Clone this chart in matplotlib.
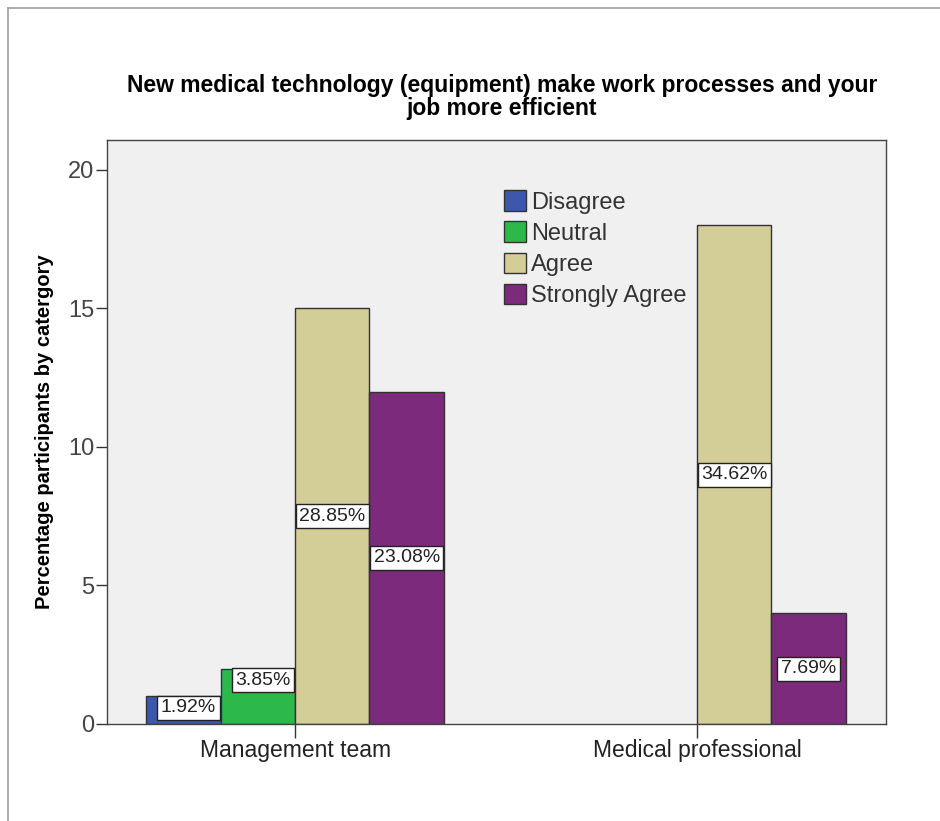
import numpy as np
import matplotlib
matplotlib.use("Agg")
import matplotlib.pyplot as plt
from matplotlib.lines import Line2D

plt.rcParams['font.family'] = ['Liberation Sans', 'DejaVu Sans']

groups = ["Management team", "Medical professional"]
responses = ["Disagree", "Neutral", "Agree", "Strongly Agree"]
counts = {
    "Disagree": [1, 0],
    "Neutral": [2, 0],
    "Agree": [15, 18],
    "Strongly Agree": [12, 4],
}
pct_labels = {
    "Disagree": ["1.92%", None],
    "Neutral": ["3.85%", None],
    "Agree": ["28.85%", "34.62%"],
    "Strongly Agree": ["23.08%", "7.69%"],
}
colors = ["#3c57ab", "#2db84a", "#d3ce98", "#7c2a7c"]

fig = plt.figure(figsize=(9.4, 8.21), dpi=100)
# grey border on top and left like the exported SPSS frame
fig.add_artist(Line2D([8/940, 8/940], [0, 1 - 8/821], color="#a0a0a0", lw=1.2))
fig.add_artist(Line2D([8/940, 1], [1 - 8/821, 1 - 8/821], color="#a0a0a0", lw=1.2))

ax = fig.add_axes([107/940, 1 - 724/821, 779/940, 584/821])
ax.set_facecolor("#f0f0f0")

x = np.arange(len(groups))
w = 0.185
for i, r in enumerate(responses):
    pos = x + (i - 1.5) * w
    vals = np.array(counts[r])
    keep = vals > 0  # empty categories are not drawn
    ax.bar(pos[keep], vals[keep], w, color=colors[i], edgecolor="#333333", linewidth=1, label=r)
    for p, v, lab in zip(pos, vals, pct_labels[r]):
        if lab is None:
            continue
        ly = v / 2 if v > 3 else v - 0.42
        ax.text(p + (0.012 if v < 3 else 0), ly, lab, ha="center", va="center", fontsize=14,
                color="#222222",
                bbox=dict(boxstyle="square,pad=0.18", fc="white", ec="#222222", lw=1))

ax.set_xlim(-0.468, 1.47)
ax.set_ylim(0, 21.08)
ax.set_yticks([0, 5, 10, 15, 20])
ax.set_xticks(x)
ax.set_xticklabels(groups)
ax.tick_params(axis="y", length=8, width=1, color="#333333", labelsize=17, labelcolor="#444444", pad=1)
ax.tick_params(axis="x", length=10, width=1, color="#333333", labelsize=16.5, labelcolor="#222222", pad=1)
for s in ax.spines.values():
    s.set_color("#444444")
    s.set_linewidth(1)

ax.set_ylabel("Percentage participants by catergory", fontsize=14.5, fontweight="bold", labelpad=10)

fig.text(502/940, 1 - 97/821,
         "New medical technology (equipment) make work processes and your\njob more efficient",
         ha="center", va="center", fontsize=16.5, fontweight="bold", linespacing=0.98)

leg = ax.legend(loc="upper left", bbox_to_anchor=(0.497, 0.93), frameon=False,
                fontsize=17, handlelength=0.95, handleheight=0.95, handletextpad=0.2,
                labelspacing=0.33, borderaxespad=0)
for t in leg.get_texts():
    t.set_color("#333333")

fig.savefig("out.png", dpi=100)
